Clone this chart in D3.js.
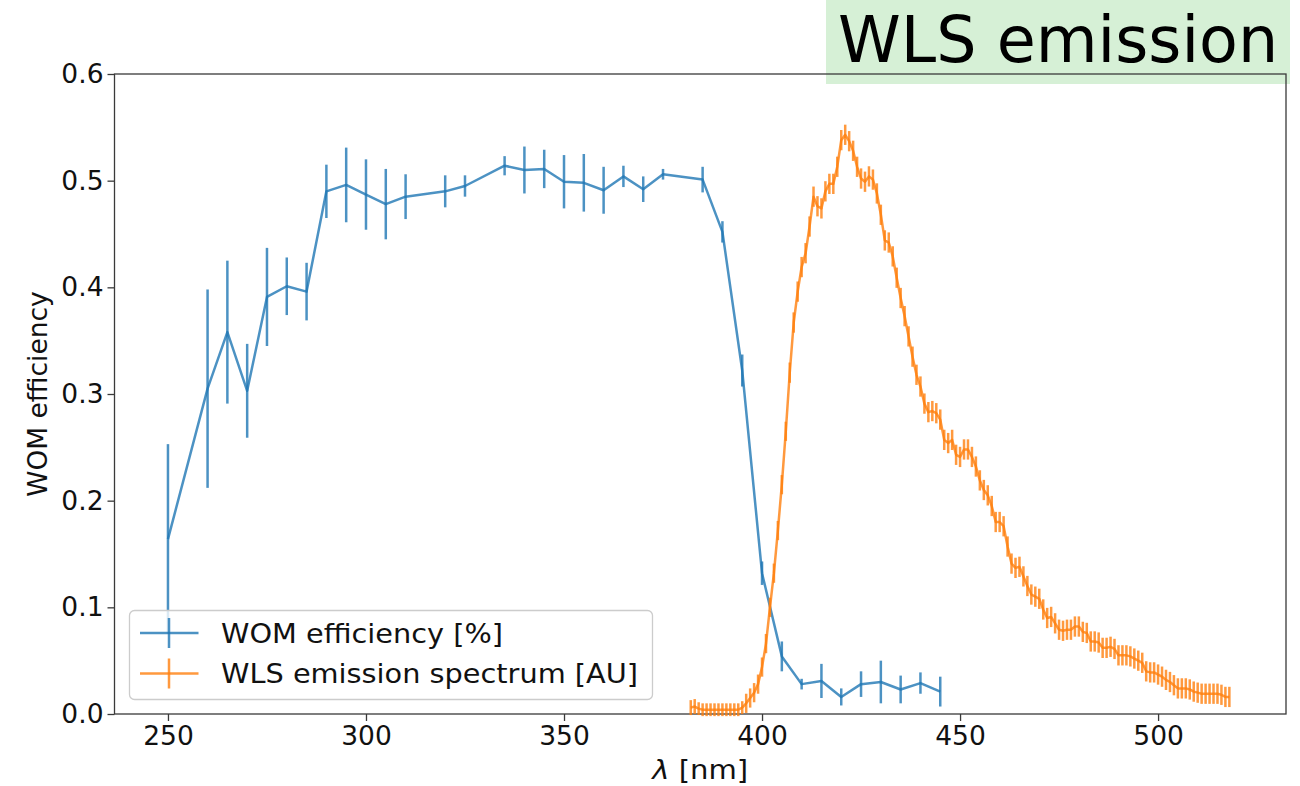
<!DOCTYPE html>
<html>
<head>
<meta charset="utf-8">
<script src="https://cdn.jsdelivr.net/npm/d3@7"></script>
<style>
  html, body { margin: 0; padding: 0; background: #ffffff; }
  svg { display: block; }
  text { font-family: "DejaVu Sans", sans-serif; }
</style>
</head>
<body>
<svg id="chart" width="1300" height="786"></svg>
<script>
// ---------------- data ----------------
const womX = [250, 260, 265, 270, 275, 280, 285, 290, 295, 300, 305, 310, 320, 325, 335, 340, 345, 350,
              355, 360, 365, 370, 375, 385, 390, 395, 400, 405, 410, 415, 420, 425, 430, 435, 440, 445];
const womY = [0.164, 0.305, 0.358, 0.303, 0.391, 0.401, 0.396, 0.490, 0.496, 0.487, 0.478, 0.485, 0.490, 0.495,
              0.514, 0.510, 0.511, 0.499, 0.498, 0.491, 0.504, 0.492, 0.506, 0.501, 0.452, 0.322, 0.132, 0.054,
              0.028, 0.031, 0.016, 0.028, 0.030, 0.023, 0.029, 0.021];
const womErr = [0.089, 0.093, 0.067, 0.044, 0.046, 0.027, 0.027, 0.025, 0.035, 0.033, 0.033, 0.021, 0.015, 0.010,
                0.009, 0.022, 0.018, 0.025, 0.027, 0.022, 0.010, 0.012, 0.005, 0.012, 0.010, 0.015, 0.011, 0.014,
                0.005, 0.016, 0.008, 0.012, 0.020, 0.013, 0.010, 0.014];

const wlsX = [382, 383, 384, 385, 386, 387, 388, 389, 390, 391, 392, 393, 394, 395, 396, 397, 398, 399,
              400, 401, 402, 403, 404, 405, 406, 407, 408, 409, 410, 411, 412, 413, 414, 415, 416, 417,
              418, 419, 420, 421, 422, 423, 424, 425, 426, 427, 428, 429, 430, 431, 432, 433, 434, 435,
              436, 437, 438, 439, 440, 441, 442, 443, 444, 445, 446, 447, 448, 449, 450, 451, 452, 453,
              454, 455, 456, 457, 458, 459, 460, 461, 462, 463, 464, 465, 466, 467, 468, 469, 470, 471,
              472, 473, 474, 475, 476, 477, 478, 479, 480, 481, 482, 483, 484, 485, 486, 487, 488, 489,
              490, 491, 492, 493, 494, 495, 496, 497, 498, 499, 500, 501, 502, 503, 504, 505, 506, 507,
              508, 509, 510, 511, 512, 513, 514, 515, 516, 517, 518];
const wlsY = [0.006, 0.007, 0.005, 0.004, 0.004, 0.004, 0.004, 0.004, 0.004, 0.004, 0.004, 0.004, 0.004, 0.006,
              0.010, 0.015, 0.020, 0.028, 0.044, 0.066, 0.100, 0.132, 0.172, 0.215, 0.265, 0.320, 0.367, 0.396,
              0.419, 0.432, 0.457, 0.485, 0.476, 0.474, 0.490, 0.497, 0.497, 0.513, 0.538, 0.543, 0.537, 0.528,
              0.513, 0.502, 0.499, 0.504, 0.501, 0.488, 0.468, 0.444, 0.442, 0.429, 0.409, 0.390, 0.373, 0.354,
              0.335, 0.318, 0.307, 0.291, 0.283, 0.284, 0.282, 0.276, 0.257, 0.254, 0.257, 0.243, 0.241, 0.248,
              0.248, 0.241, 0.232, 0.219, 0.210, 0.205, 0.195, 0.180, 0.180, 0.176, 0.157, 0.141, 0.137, 0.138,
              0.129, 0.120, 0.112, 0.110, 0.108, 0.098, 0.090, 0.091, 0.085, 0.079, 0.078, 0.079, 0.079, 0.082,
              0.082, 0.077, 0.076, 0.068, 0.068, 0.067, 0.062, 0.062, 0.063, 0.061, 0.055, 0.055, 0.055, 0.054,
              0.052, 0.050, 0.048, 0.040, 0.039, 0.039, 0.037, 0.035, 0.032, 0.030, 0.027, 0.024, 0.024, 0.024,
              0.023, 0.021, 0.020, 0.019, 0.019, 0.019, 0.019, 0.019, 0.018, 0.016, 0.016];
const wlsErr = [0.007, 0.007, 0.006, 0.006, 0.006, 0.006, 0.006, 0.006, 0.006, 0.006, 0.006, 0.006, 0.006, 0.006,
                0.009, 0.009, 0.009, 0.009, 0.009, 0.009, 0.009, 0.009, 0.009, 0.009, 0.009, 0.0095, 0.0095, 0.0095,
                0.0095, 0.0095, 0.0095, 0.0095, 0.0095, 0.0095, 0.0095, 0.0095, 0.0095, 0.0095, 0.0095, 0.0095, 0.0095, 0.0095,
                0.0095, 0.0095, 0.0095, 0.0095, 0.0095, 0.0095, 0.0095, 0.0095, 0.0095, 0.0095, 0.0095, 0.0095, 0.0095, 0.0095,
                0.0095, 0.0095, 0.0095, 0.0095, 0.0095, 0.0095, 0.0095, 0.0095, 0.0095, 0.0095, 0.0095, 0.0095, 0.0095, 0.0095,
                0.0095, 0.0095, 0.0095, 0.0095, 0.0095, 0.0095, 0.0095, 0.0095, 0.0095, 0.0095, 0.0095, 0.0095, 0.0095, 0.0095,
                0.0095, 0.0095, 0.0095, 0.0095, 0.0095, 0.0095, 0.0095, 0.0095, 0.0095, 0.0095, 0.0095, 0.0095, 0.0095, 0.0095,
                0.0095, 0.0095, 0.0095, 0.0095, 0.0095, 0.0095, 0.0095, 0.0095, 0.0095, 0.0095, 0.0095, 0.0095, 0.0095, 0.0095,
                0.0095, 0.0095, 0.0095, 0.0095, 0.0095, 0.0095, 0.0095, 0.0095, 0.0095, 0.0095, 0.0095, 0.0095, 0.0095, 0.0095,
                0.0095, 0.0095, 0.0095, 0.0095, 0.0095, 0.0095, 0.0095, 0.0095, 0.0095, 0.0095, 0.0095];

const xTicks = [250, 300, 350, 400, 450, 500];
const yTicks = [0.0, 0.1, 0.2, 0.3, 0.4, 0.5, 0.6];
const seriesNames = ["WOM efficiency [%]", "WLS emission spectrum [AU]"];
const titleText = "WLS emission";
const xLabel = "[nm]";
const yLabel = "WOM efficiency";

// ---------------- layout ----------------
const svg = d3.select("#chart");
const plot = { left: 114.5, right: 1286, top: 74, bottom: 714 };
const x = d3.scaleLinear().domain([236.5, 532.3]).range([plot.left, plot.right]);
const y = d3.scaleLinear().domain([0, 0.6]).range([plot.bottom, plot.top]);
const colors = ["#1f77b4", "#ff7f0e"];
const axisColor = "#3a3a3a";
const lw = 2.5;

// title box (behind the axes frame)
svg.append("rect").attr("x", 826).attr("y", 0).attr("width", 464).attr("height", 84)
  .attr("fill", "#d6f0d6");
svg.append("text").attr("x", 838).attr("y", 62).attr("font-size", 63.5)
  .attr("fill", "#000").text(titleText);

// axes
const xAxis = d3.axisBottom(x).tickValues(xTicks).tickSize(7).tickPadding(5).tickFormat(d3.format("d"));
const yAxis = d3.axisLeft(y).tickValues(yTicks).tickSize(7).tickPadding(4).tickFormat(d3.format(".1f"));

const gx = svg.append("g").attr("transform", `translate(0,${plot.bottom})`).call(xAxis);
const gy = svg.append("g").attr("transform", `translate(${plot.left},0)`).call(yAxis);
[gx, gy].forEach(g => {
  g.select(".domain").remove();
  g.selectAll(".tick line").attr("stroke", axisColor).attr("stroke-width", 1.3);
  g.selectAll(".tick text").attr("fill", "#111").attr("font-size", 26.5)
    .attr("font-family", "DejaVu Sans, sans-serif");
});

// frame
svg.append("rect")
  .attr("x", plot.left).attr("y", plot.top)
  .attr("width", plot.right - plot.left).attr("height", plot.bottom - plot.top)
  .attr("fill", "none").attr("stroke", axisColor).attr("stroke-width", 1.3);

// axis labels
const xl = svg.append("text").attr("x", (plot.left + plot.right) / 2).attr("y", 779)
  .attr("text-anchor", "middle").attr("font-size", 27).attr("fill", "#111")
  .attr("textLength", 96).attr("lengthAdjust", "spacingAndGlyphs");
xl.append("tspan").attr("font-style", "italic").text("λ");
xl.append("tspan").text(" " + xLabel);

svg.append("text").attr("transform", `translate(47,${(plot.top + plot.bottom) / 2}) rotate(-90)`)
  .attr("text-anchor", "middle").attr("font-size", 26.5).attr("fill", "#111").text(yLabel);

// series
const plotG = svg.append("g");
function drawSeries(xs, ys, es, color) {
  const g = plotG.append("g");
  const pts = xs.map((d, i) => [d, ys[i], es[i]]);
  g.append("path").datum(pts)
    .attr("d", d3.line().x(d => x(d[0])).y(d => y(d[1])))
    .attr("fill", "none").attr("stroke", color).attr("stroke-width", lw)
    .attr("stroke-opacity", 0.8).attr("stroke-linejoin", "round");
  g.selectAll("line.err").data(pts).enter().append("line")
    .attr("x1", d => x(d[0])).attr("x2", d => x(d[0]))
    .attr("y1", d => y(d[1] - d[2])).attr("y2", d => y(d[1] + d[2]))
    .attr("stroke", color).attr("stroke-width", lw).attr("stroke-opacity", 0.8);
}
drawSeries(womX, womY, womErr, colors[0]);
drawSeries(wlsX, wlsY, wlsErr, colors[1]);

// legend
const lg = svg.append("g");
lg.append("rect").attr("x", 129.5).attr("y", 610.5).attr("width", 523).attr("height", 89)
  .attr("rx", 5).attr("fill", "#ffffff").attr("fill-opacity", 0.8)
  .attr("stroke", "#cccccc").attr("stroke-width", 1.3);
const legendRows = [633, 673.5];
const legendWidths = [282, 417];
seriesNames.forEach((name, i) => {
  const cy = legendRows[i];
  lg.append("line").attr("x1", 140).attr("x2", 198.5).attr("y1", cy).attr("y2", cy)
    .attr("stroke", colors[i]).attr("stroke-width", lw).attr("stroke-opacity", 0.8);
  lg.append("line").attr("x1", 169).attr("x2", 169).attr("y1", cy - 15).attr("y2", cy + 15)
    .attr("stroke", colors[i]).attr("stroke-width", lw).attr("stroke-opacity", 0.8);
  lg.append("text").attr("x", 221).attr("y", cy).attr("dy", "0.36em")
    .attr("font-size", 26.5).attr("fill", "#111")
    .attr("textLength", legendWidths[i]).attr("lengthAdjust", "spacingAndGlyphs")
    .text(name);
});
</script>
</body>
</html>
